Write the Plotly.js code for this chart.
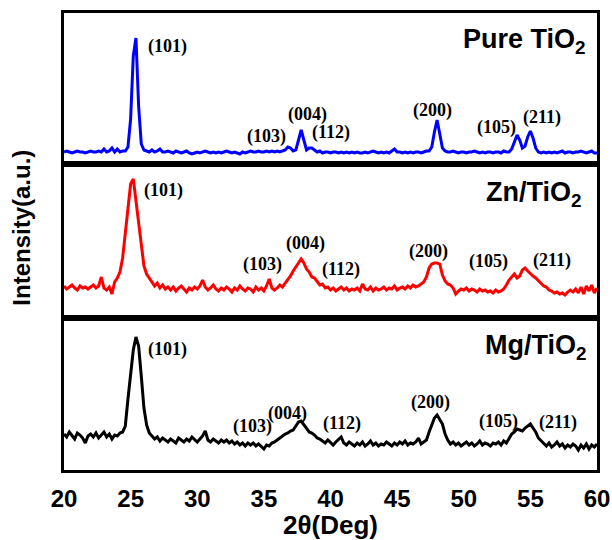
<!DOCTYPE html>
<html>
<head>
<meta charset="utf-8">
<script src="https://cdn.plot.ly/plotly-3.0.1.min.js"></script>
<style>
  html, body { margin: 0; padding: 0; background: #ffffff; }
  #chart { width: 612px; height: 540px; }
</style>
</head>
<body>
<div id="chart"></div>
<script>
// 2θ sampling: start 20°, step 0.2° (201 points per pattern)
const twoThetaStart = 20;
const twoThetaStep = 0.2;

// Intensity (a.u.), 20° → 60°
const pureTiO2 = [
12,13,12,11,12,13,12,12,11,12,
13,12,12,13,12,15,12,13,16,12,
15,12,13,13,17,45,108,126,58,20,
14,13,12,14,12,13,15,12,12,13,
12,11,13,12,11,12,13,11,10,11,
12,11,12,13,12,11,12,11,12,11,
12,13,12,11,12,11,10,12,11,12,
13,12,12,13,12,12,13,12,13,12,
13,12,13,14,17,16,13,14,24,34,
24,14,16,16,14,12,13,11,12,12,
11,12,12,11,12,11,12,11,12,11,
12,11,11,12,11,12,13,12,11,12,
11,12,11,13,15,12,12,11,12,11,
12,11,12,12,11,12,13,13,17,32,
44,30,16,13,12,12,13,12,11,12,
12,11,12,12,13,12,11,12,11,12,
12,11,12,12,11,13,12,12,15,22,
29,24,16,18,27,33,26,16,12,11,
12,11,12,11,12,11,12,13,11,12,
12,11,12,12,13,12,11,12,13,11,
11];

const znTiO2 = [
32,29,31,33,30,28,32,30,31,29,
31,33,30,32,41,30,28,31,24,36,
40,46,60,85,112,134,139,118,98,72,
52,44,40,36,32,35,30,33,29,31,
28,31,27,30,32,29,26,30,28,31,
29,32,38,31,28,30,33,29,27,30,
28,31,29,26,30,28,32,29,27,30,
29,26,31,28,30,27,32,39,30,28,
30,33,31,35,38,42,47,51,56,59,
55,49,46,41,40,37,33,34,30,31,
28,30,27,29,31,28,30,27,29,28,
30,27,34,29,28,31,27,30,28,29,
31,28,30,29,32,28,30,31,29,32,
30,33,31,32,34,36,41,50,54,55,
55,54,43,37,34,33,30,24,27,29,
28,30,27,29,28,26,29,27,28,26,
27,25,28,26,27,29,33,38,41,44,
40,42,48,50,47,44,42,40,37,34,
32,31,28,27,25,26,24,25,23,26,
28,26,29,25,31,24,32,27,33,25,
30];

const mgTiO2 = [
36,33,38,34,31,37,35,32,27,34,
36,33,37,32,35,38,33,36,31,35,
34,37,38,44,71,95,120,133,124,94,
62,45,37,34,31,33,29,32,30,28,
31,29,27,32,30,28,31,29,33,30,
28,31,34,39,30,28,31,29,27,30,
28,30,27,29,26,28,25,27,24,27,
25,27,24,26,23,21,25,24,27,28,
30,32,34,36,37,39,40,44,48,49,
45,42,38,37,35,32,31,29,27,30,
27,25,28,31,33,27,25,28,26,24,
27,25,28,24,26,29,25,27,24,26,
25,28,26,24,27,25,28,26,29,25,
27,26,28,32,26,28,30,38,45,52,
55,50,46,36,30,26,28,25,27,24,
26,28,25,27,24,26,29,25,27,26,
24,27,26,28,25,29,27,31,36,38,
41,40,39,42,44,46,42,38,32,29,
26,24,27,23,25,28,24,26,22,25,
23,26,24,20,25,22,26,21,25,23,
26];

const xTickValues = [20, 25, 30, 35, 40, 45, 50, 55, 60];
const sampleNames = ['Pure TiO<sub>2</sub>', 'Zn/TiO<sub>2</sub>', 'Mg/TiO<sub>2</sub>'];
const sampleColors = ['#0000ff', '#ff0000', '#000000'];
const peakNames = ['(101)', '(103)', '(004)', '(112)', '(200)', '(105)', '(211)'];

// label placement (layout only): [2θ, intensity] per peak name, per panel
const labelPos = [
  [[27.73,118],[35.23,27],[38.31,50],[40.0,31],[47.69,54],[52.42,36],[55.87,47]],
  [[27.43,127],[34.86,54],[38.09,74],[40.79,49],[47.39,67],[51.89,57],[56.62,58]],
  [[27.73,121],[34.18,44],[36.74,57],[40.86,47],[47.54,68],[52.57,49],[57.07,48]]
];
const panelLabelPos = [[0.983, 0.9385], [0.976, 0.6038], [0.985, 0.269]];
const yRanges = [[0,151],[0,154],[0,152]];
const yDomains = [[0.6696,1],[0.3326,0.6696],[0,0.3326]];

const series = [pureTiO2, znTiO2, mgTiO2];
const axSuffix = ['', '2', '3'];

const traces = series.map((vals, k) => ({
  type: 'scatter',
  mode: 'lines',
  x0: twoThetaStart,
  dx: twoThetaStep,
  y: vals,
  xaxis: 'x' + axSuffix[k],
  yaxis: 'y' + axSuffix[k],
  line: { color: sampleColors[k], width: 3 },
  name: sampleNames[k],
  showlegend: false,
  hoverinfo: 'skip'
}));

const sansBold = { family: 'Liberation Sans, Arial, sans-serif', color: '#000', weight: 'bold' };

const layout = {
  width: 612,
  height: 540,
  margin: { l: 64, r: 15, t: 13, b: 70 },
  paper_bgcolor: '#ffffff',
  plot_bgcolor: '#ffffff',
  showlegend: false,
  annotations: [],
  shapes: []
};

for (let k = 0; k < 3; k++) {
  const s = axSuffix[k];
  const isBottom = k === 2;
  const xa = {
    domain: [0, 1],
    range: [20, 60],
    anchor: 'y' + s,
    showgrid: false,
    zeroline: false,
    showline: true,
    mirror: true,
    linewidth: 3,
    linecolor: '#000',
    tickvals: xTickValues,
    ticktext: xTickValues.map(String),
    showticklabels: isBottom,
    ticks: isBottom ? 'outside' : '',
    ticklen: 5,
    tickcolor: 'rgba(0,0,0,0)',
    tickfont: Object.assign({ size: 24 }, sansBold)
  };
  if (isBottom) {
    xa.title = { text: '2θ(Deg)', font: Object.assign({ size: 26 }, sansBold), standoff: 4 };
  } else {
    xa.matches = 'x3';
  }
  layout['xaxis' + s] = xa;
  layout['yaxis' + s] = {
    domain: yDomains[k],
    range: yRanges[k],
    anchor: 'x' + s,
    showgrid: false,
    zeroline: false,
    showline: true,
    mirror: true,
    linewidth: 3,
    linecolor: '#000',
    showticklabels: false,
    ticks: '',
    fixedrange: true
  };

  peakNames.forEach((nm, j) => {
    layout.annotations.push({
      xref: 'x' + s, yref: 'y' + s,
      x: labelPos[k][j][0], y: labelPos[k][j][1],
      text: nm,
      showarrow: false,
      xanchor: 'center', yanchor: 'middle',
      font: { family: 'Liberation Serif, Times New Roman, serif', size: 18, color: '#000', weight: 'bold' }
    });
  });

  layout.annotations.push({
    xref: 'paper', yref: 'paper',
    x: panelLabelPos[k][0], y: panelLabelPos[k][1],
    text: sampleNames[k],
    showarrow: false,
    xanchor: 'right', yanchor: 'middle',
    font: Object.assign({ size: 27 }, sansBold)
  });
}

layout.annotations.push({
  xref: 'paper', yref: 'paper',
  x: -0.079, y: 0.53,
  text: 'Intensity(a.u.)',
  textangle: -90,
  showarrow: false,
  xanchor: 'center', yanchor: 'middle',
  font: Object.assign({ size: 24 }, sansBold)
});

Plotly.newPlot('chart', traces, layout, { displayModeBar: false, staticPlot: true });
</script>
</body>
</html>
